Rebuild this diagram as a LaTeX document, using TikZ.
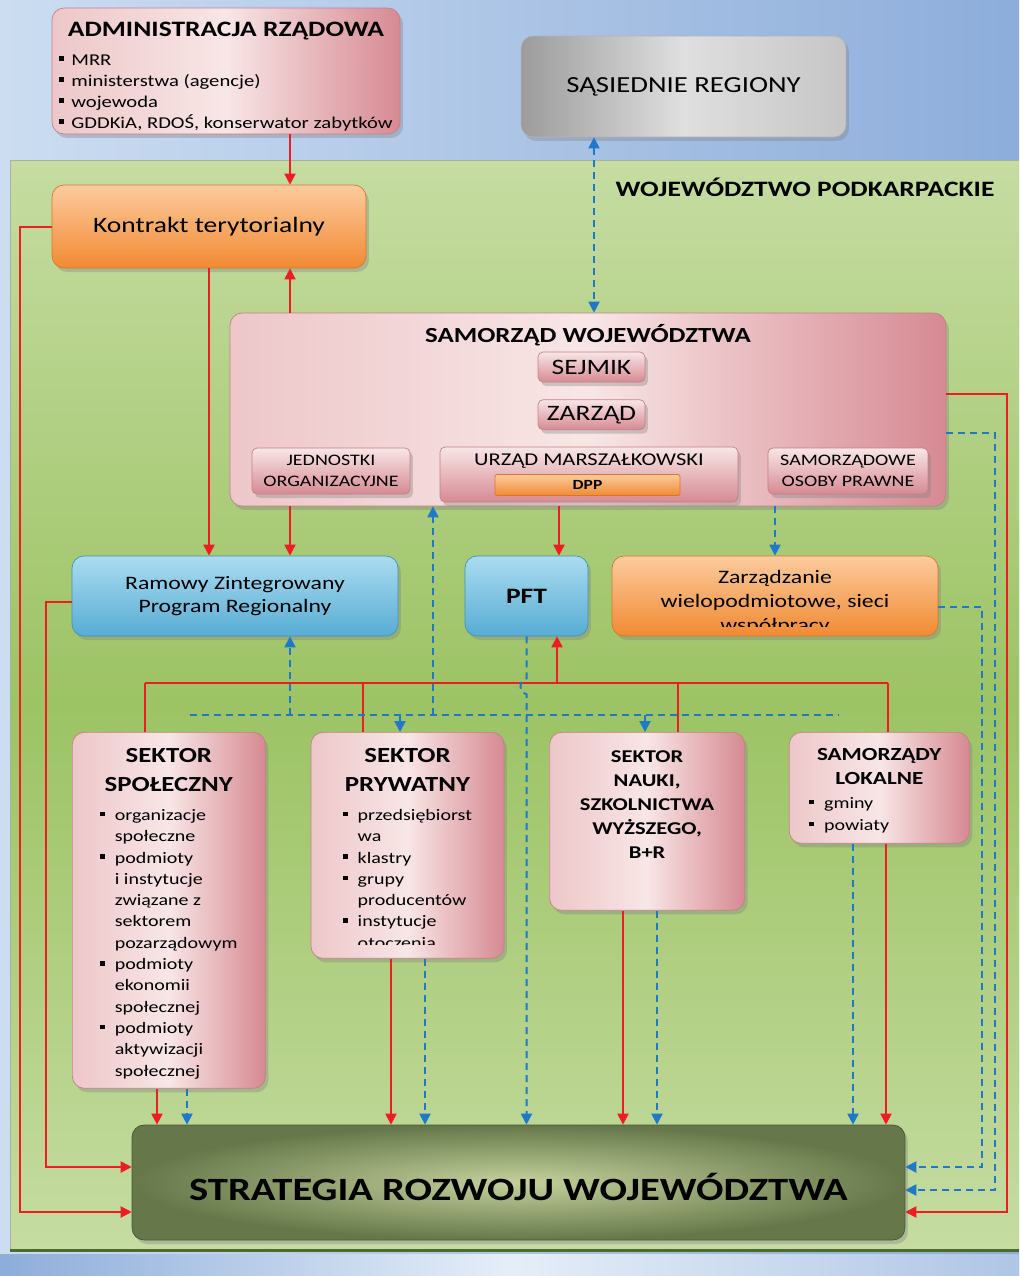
\documentclass[tikz,border=0pt]{standalone}
\usepackage{fontspec}
\setmainfont{Carlito}[FakeStretch=1.25]
\usetikzlibrary{positioning,shadows,arrows.meta}

\newlength{\pxu}
\setlength{\pxu}{0.02cm}
\newcommand{\fpx}[2]{\fontsize{#1\pxu}{#2\pxu}\selectfont}
\newcommand{\sqb}{\raisebox{0.25em}{\rule{0.3em}{0.3em}}}

\definecolor{pinkL}{HTML}{F8E6E6}
\definecolor{pinkM}{HTML}{EDC7C9}
\definecolor{pinkD}{HTML}{D68A93}
\definecolor{pinkE}{HTML}{C67F87}
\definecolor{orL}{HTML}{FCCB9E}
\definecolor{orD}{HTML}{F18A33}
\definecolor{orE}{HTML}{D8772B}
\definecolor{blL}{HTML}{AADCF0}
\definecolor{blD}{HTML}{58ACD4}
\definecolor{blE}{HTML}{3F93BE}
\definecolor{grL}{HTML}{C6DCA2}
\definecolor{grM}{HTML}{9CC364}
\definecolor{grE}{HTML}{4E6B2E}
\definecolor{skyL}{HTML}{CCDDF1}
\definecolor{skyD}{HTML}{8DADDA}
\definecolor{olL}{HTML}{C4D19C}
\definecolor{olD}{HTML}{66784A}
\definecolor{lnRed}{HTML}{EE1D23}
\definecolor{lnBlue}{HTML}{1F78C8}

\tikzset{
	basic/.style     = {rectangle, rounded corners=0.24cm, inner sep=0pt, thin,
		drop shadow={shadow xshift=0.06cm, shadow yshift=-0.08cm, opacity=0.35}},
	pinkbox/.style   = {basic, draw=pinkE, left color=pinkM, right color=pinkD, middle color=pinkL},
	subbox/.style    = {basic, rounded corners=0.1cm, draw=pinkE, top color=pinkL, bottom color=pinkD},
	orangebox/.style = {basic, draw=orE, top color=orL, bottom color=orD},
	bluebox/.style   = {basic, draw=blE, top color=blL, bottom color=blD},
	graybox/.style   = {basic, draw=gray!60, left color=gray!78, right color=gray!45, middle color=gray!25},
	stratbox/.style  = {basic, draw=olD!70!black, inner color=olL, outer color=olD},
	dppbar/.style    = {rectangle, rounded corners=0.04cm, draw=orE, top color=orL, bottom color=orD, inner sep=0pt},
	sectortext/.style = {inner sep=0pt, align=center},
	redline/.style   = {draw=lnRed, line width=0.04cm},
	blueline/.style  = {draw=lnBlue, line width=0.04cm, dash pattern=on 0.14cm off 0.1cm}
}

\begin{document}
\begin{tikzpicture}[x=0.02cm, y=-0.02cm, >={Triangle[length=0.22cm, width=0.22cm]}]
	\useasboundingbox (0,0) rectangle (1019,1276);
	
	% background and the green region
	\fill[left color=skyL, right color=skyD] (0,0) rectangle (1019,1276);
	\fill[left color=skyD, right color=skyD!70, middle color=skyL!50!white] (0,1254) rectangle (1019,1276);
	\fill[top color=grL, bottom color=grL, middle color=grM] (10,160) rectangle (1019,1250);
	\draw[grE!50, line width=0.02cm] (1019,160) -- (10,160) -- (10,1250);
	\draw[grE, line width=0.06cm] (10,1250) -- (1019,1250);
	\node[font=\fpx{22}{26}\bfseries, inner sep=0pt] (wojlabel) at (805,187) {WOJEWÓDZTWO PODKARPACKIE};
	
	% top row
	\node[pinkbox, minimum width=6.96cm, minimum height=2.52cm] (admin) at (226,71) {};
	\node[sectortext, font=\fpx{16.5}{21}, below=0.29cm of admin.north] (admintxt)
	{{\fpx{22}{26}\bfseries ADMINISTRACJA RZĄDOWA}\\[0.15cm]
		\begin{tabular}[t]{@{}l@{\hspace{0.14cm}}l@{}}
			\sqb & MRR\\ \sqb & ministerstwa (agencje)\\ \sqb & wojewoda\\ \sqb & GDDKiA, RDOŚ, konserwator zabytków
	\end{tabular}};
	\node[graybox, minimum width=6.5cm, minimum height=2.02cm, font=\fpx{23}{27}] (sasiad) at (683.5,86.5) {SĄSIEDNIE REGIONY};
	\node[orangebox, minimum width=6.28cm, minimum height=1.66cm, font=\fpx{22}{26}] (kontrakt) at (209,226.5) {Kontrakt terytorialny};
	
	% samorzad wojewodztwa with its parts
	\node[pinkbox, minimum width=14.32cm, minimum height=3.86cm] (samorzad) at (588,409.5) {};
	\node[font=\fpx{21.5}{26}\bfseries, inner sep=0pt, below=0.22cm of samorzad.north] (samtitle) {SAMORZĄD WOJEWÓDZTWA};
	\node[subbox, minimum width=2.14cm, minimum height=0.6cm, font=\fpx{22}{26}] (sejmik) at (591.5,367) {SEJMIK};
	\node[subbox, minimum width=2.14cm, minimum height=0.6cm, font=\fpx{22}{26}, below=0.34cm of sejmik] (zarzad) {ZARZĄD};
	\node[subbox, minimum width=3.16cm, minimum height=0.92cm, font=\fpx{16}{21}, align=center] (jednostki) at (331,471) {JEDNOSTKI\\ORGANIZACYJNE};
	\node[subbox, minimum width=5.96cm, minimum height=1.1cm] (urzad) at (589,474.5) {};
	\node[font=\fpx{18}{22}, inner sep=0pt, below=0.14cm of urzad.north] (urzadtxt) {URZĄD MARSZAŁKOWSKI};
	\node[dppbar, minimum width=3.7cm, minimum height=0.42cm, font=\fpx{14}{16}\bfseries] (dpp) at (587.5,485) {DPP};
	\node[subbox, minimum width=3.2cm, minimum height=0.92cm, font=\fpx{16}{21}, align=center] (osoby) at (848,471) {SAMORZĄDOWE\\OSOBY PRAWNE};
	
	% programmes
	\node[bluebox, minimum width=6.52cm, minimum height=1.6cm, font=\fpx{19}{23}, align=center] (rzpr) at (235,596) {Ramowy Zintegrowany\\Program Regionalny};
	\node[bluebox, minimum width=2.46cm, minimum height=1.6cm, font=\fpx{22}{26}\bfseries] (pft) at (526.5,596) {PFT};
	\node[orangebox, minimum width=6.52cm, minimum height=1.6cm] (zarzadz) at (775,596) {};
	\begin{scope}
		\clip (zarzadz.north west) rectangle ([yshift=0.2cm]zarzadz.south east);
		\node[sectortext, font=\fpx{19}{24}, below=0.28cm of zarzadz.north] (zarztxt) {Zarządzanie\\wielopodmiotowe, sieci\\współpracy};
	\end{scope}
	
	% sectors
	\node[pinkbox, minimum width=3.86cm, minimum height=7.12cm, anchor=north west] (s1) at (72,732) {};
	\node[pinkbox, minimum width=3.86cm, minimum height=4.52cm, below right=0pt and 0.9cm of s1.north east] (s2) {};
	\node[pinkbox, minimum width=3.9cm, minimum height=3.56cm, below right=0pt and 0.9cm of s2.north east] (s3) {};
	\node[pinkbox, minimum width=3.6cm, minimum height=2.22cm, below right=0pt and 0.88cm of s3.north east] (s4) {};
	
	\node[sectortext, font=\fpx{21.5}{29}, below=0.32cm of s1.north] (t1)
	{\textbf{SEKTOR}\\\textbf{SPOŁECZNY}\\
		{\fpx{16}{21.3}\begin{tabular}[t]{@{}l@{\hspace{0.2cm}}l@{}}
				\sqb & organizacje\\ & społeczne\\
				\sqb & podmioty\\ & i instytucje\\ & związane z\\ & sektorem\\ & pozarządowym\\
				\sqb & podmioty\\ & ekonomii\\ & społecznej\\
				\sqb & podmioty\\ & aktywizacji\\ & społecznej
		\end{tabular}}};
	\begin{scope}
		\clip (s2.north west) rectangle ([yshift=0.28cm]s2.south east);
		\node[sectortext, font=\fpx{21.5}{29}, below=0.32cm of s2.north] (t2)
		{\textbf{SEKTOR}\\\textbf{PRYWATNY}\\
			{\fpx{16}{21.3}\begin{tabular}[t]{@{}l@{\hspace{0.2cm}}l@{}}
					\sqb & przedsiębiorst\\ & wa\\
					\sqb & klastry\\
					\sqb & grupy\\ & producentów\\
					\sqb & instytucje\\ & otoczenia
			\end{tabular}}};
	\end{scope}
	\node[sectortext, font=\fpx{18}{24}\bfseries, below=0.36cm of s3.north] (t3) {SEKTOR\\NAUKI,\\SZKOLNICTWA\\WYŻSZEGO,\\B+R};
	\node[sectortext, font=\fpx{18.5}{24}, below=0.32cm of s4.north] (t4)
	{\textbf{SAMORZĄDY}\\\textbf{LOKALNE}\\
		\makebox[2.8cm][l]{\fpx{16}{22}\begin{tabular}[t]{@{}l@{\hspace{0.2cm}}l@{}}
				\sqb & gminy\\ \sqb & powiaty
		\end{tabular}}};
	
	% the strategy at the bottom
	\node[stratbox, minimum width=15.46cm, minimum height=2.3cm, font=\fpx{32.5}{36}\bfseries] (strategia) at (518.5,1182.5)
	{\raisebox{0pt}[0.72cm][0cm]{STRATEGIA ROZWOJU WOJEWÓDZTWA}};
	
	% connections in the upper part
	\draw[redline, ->] (290,0 |- admin.south) -- (290,0 |- kontrakt.north);
	\draw[redline, ->] (290,0 |- samorzad.north) -- (290,0 |- kontrakt.south);
	\draw[redline, ->] (kontrakt.south) -- (kontrakt.south |- rzpr.north);
	\draw[redline, ->] (290,0 |- samorzad.south) -- (290,0 |- rzpr.north);
	\draw[redline, ->] (559,0 |- samorzad.south) -- (559,0 |- pft.north);
	\draw[blueline, ->] (zarzadz.north |- samorzad.south) -- (zarzadz.north);
	\draw[blueline, <->] (594,0 |- sasiad.south) -- (594,0 |- samorzad.north);
	
	% long lines on both sides down to the strategy
	\draw[redline, ->] (kontrakt.west) -- ++(-32,0) |- ([yshift=-0.59cm]strategia.west);
	\draw[redline, ->] ([yshift=-0.12cm]rzpr.west) -- ++(-26,0) |- ([yshift=0.31cm]strategia.west);
	\draw[redline, ->] ([yshift=0.31cm]samorzad.east) -- ++(61,0) |- ([yshift=-0.59cm]strategia.east);
	\draw[blueline, ->] ([yshift=-0.47cm]samorzad.east) -- ++(49,0) |- ([yshift=-0.15cm]strategia.east);
	\draw[blueline, ->] ([yshift=-0.22cm]zarzadz.east) -- ++(44,0) |- ([yshift=0.31cm]strategia.east);
	
	% the two buses above the sectors
	\coordinate (rbus) at (0,683);
	\coordinate (bbus) at (0,715);
	\draw[redline] (145,0 |- rbus) -- (888,0 |- rbus);
	\foreach \xr/\s in {145/s1, 363/s2, 678/s3, 888/s4}
	\draw[redline] (\xr,0 |- rbus) -- (\xr,0 |- \s.north);
	\draw[redline, ->] (557,0 |- rbus) -- (557,0 |- pft.south);
	
	\draw[blueline] (190,0 |- bbus) -- (838,0 |- bbus);
	\draw[blueline, ->] (290,0 |- bbus) -- (290,0 |- rzpr.south);
	\draw[blueline, ->] (433,0 |- bbus) -- (433,0 |- samorzad.south);
	\foreach \xb/\s in {400/s2, 645/s3}
	\draw[blueline, ->] (\xb,0 |- bbus) -- (\xb,0 |- \s.north);
	\draw[blueline, ->] (pft.south) -- ++(0,42) .. controls +(-8,3) and +(-8,-3) .. ++(0,16) -- (pft.south |- strategia.north);
	
	% every sector down to the strategy
	\foreach \s/\xr/\xb in {s1/157/187, s2/391/425, s3/623/657, s4/886/853} {
		\draw[redline, ->] (\xr,0 |- \s.south) -- (\xr,0 |- strategia.north);
		\draw[blueline, ->] (\xb,0 |- \s.south) -- (\xb,0 |- strategia.north);
	}
	
\end{tikzpicture}
\end{document}
